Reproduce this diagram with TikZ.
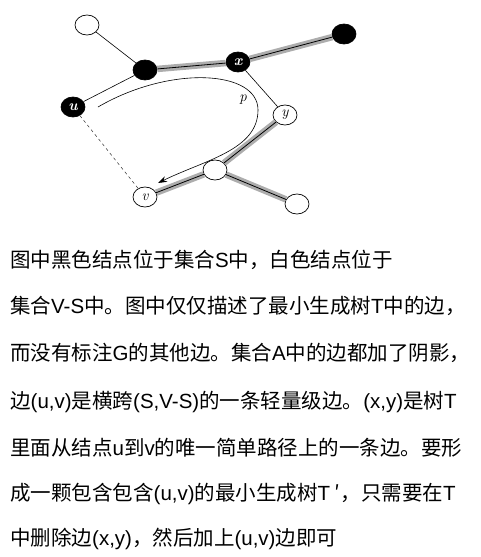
\documentclass[tikz,border=0pt]{standalone}
\usepackage{fontspec}
\newfontfamily\cjk{Noto Sans CJK SC}
\newfontfamily\lat{Liberation Sans}
\usetikzlibrary{arrows.meta,shapes.geometric}

\begin{document}
\begin{tikzpicture}[
  x=1pt, y=-1pt,
  >=Stealth,
  vtx/.style={
    ellipse,
    draw=black,
    line width=0.7pt,
    minimum width=24pt,
    minimum height=20pt,
    inner sep=0pt,
    font=\fontsize{15}{15}\selectfont\itshape
  },
  inS/.style={
    vtx,
    fill=black,
    text=white,
    font=\fontsize{15}{15}\selectfont\bfseries\itshape
  },
  outS/.style={
    vtx,
    fill=white
  },
  tedge/.style={
    line width=0.6pt
  },
  aedge/.style={
    line width=0.8pt,
    preaction={draw, black!32, line width=6.5pt}
  },
  light/.style={
    line width=0.6pt,
    dash pattern=on 3pt off 3pt,
    black!70
  },
  path/.style={
    -{Stealth[length=9pt,width=6pt]},
    line width=0.6pt
  },
  txt/.style={
    anchor=base west,
    inner sep=0pt,
    font=\cjk\fontsize{20.5}{20.5}\selectfont
  }
]
\useasboundingbox (0,0) rectangle (481,557);

% tree T
\node[outS] (w1) at (87,25) {};
\node[inS] (a) at (145,70) {};
\node[inS] (x) at (238,62) {x};
\node[inS] (b) at (344,34) {};
\node[inS] (u) at (73,107) {u};
\node[outS] (y) at (285,115) {y};
\node[outS] (m) at (215,170) {};
\node[outS] (v) at (145,197) {v};
\node[outS] (w2) at (297,204) {};

\draw[tedge] (w1) -- (a);
\draw[tedge] (a) -- (u);
\draw[tedge] (x) -- (y);
\draw[aedge] (a) -- (x);
\draw[aedge] (x) -- (b);
\draw[aedge] (y) -- (m);
\draw[aedge] (m) -- (v);
\draw[aedge] (m) -- (w2);

% light edge (u,v)
\draw[light] (u) -- (v);

% path p from u to v
\coordinate (pstart) at (98,107);
\coordinate (pend) at (158,183);
\draw[path] (pstart) .. controls (170,65) and (258,70) .. (258,110)
  .. controls (258,150) and (205,160) .. (pend);
\node[font=\fontsize{15}{15}\selectfont\itshape] (plabel) at (243,100) {p};

% caption
\node[txt] (line1) at (10,267) {图中黑色结点位于集合{\lat S}中，白色结点位于};
\node[txt] (line2) at (10,313) {集合{\lat V-S}中。图中仅仅描述了最小生成树{\lat T}中的边，};
\node[txt] (line3) at (10,360) {而没有标注{\lat G}的其他边。集合{\lat A}中的边都加了阴影，};
\node[txt] (line4) at (10,408) {边{\lat (u,v)}是横跨{\lat (S,V-S)}的一条轻量级边。{\lat (x,y)}是树{\lat T}};
\node[txt] (line5) at (10,455) {里面从结点{\lat u}到{\lat v}的唯一简单路径上的一条边。要形};
\node[txt] (line6) at (10,500) {成一颗包含包含{\lat (u,v)}的最小生成树{\lat T} ′，只需要在{\lat T}};
\node[txt] (line7) at (10,545) {中删除边{\lat (x,y)}，然后加上{\lat (u,v)}边即可};
\end{tikzpicture}
\end{document}
